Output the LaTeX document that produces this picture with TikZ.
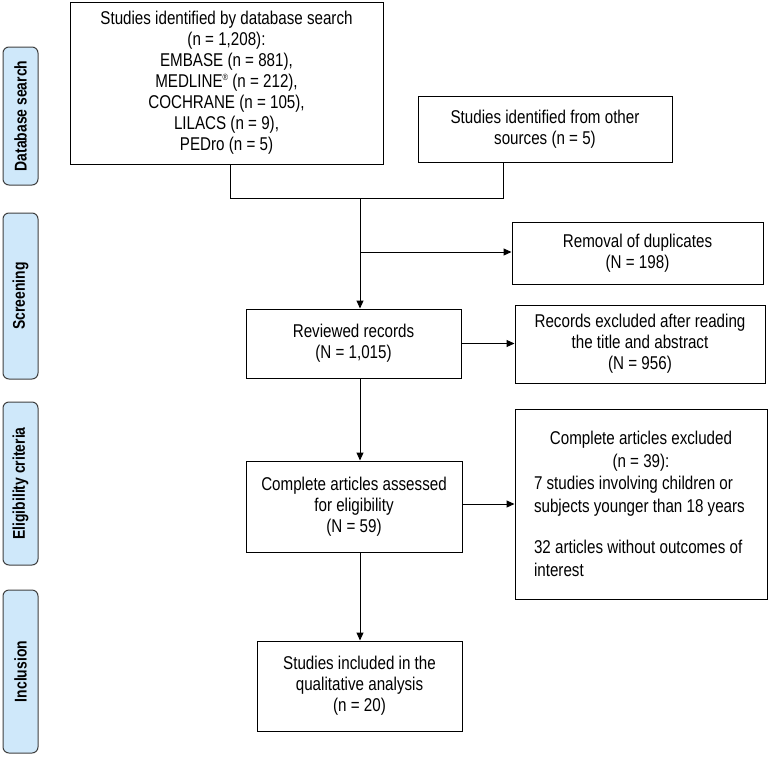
\documentclass[tikz,border=0pt]{standalone}
\usepackage{fontspec}
\setmainfont{Liberation Sans}[FakeStretch=0.82]
\usetikzlibrary{arrows.meta}
\definecolor{stagefill}{RGB}{207,232,250}

\begin{document}
\begin{tikzpicture}[x=1pt, y=-1pt,
    box/.style={draw, line width=1pt, rectangle, align=center, inner sep=0pt,
        font=\fontsize{18.5}{21}\selectfont},
    stage/.style={draw=black!75, fill=stagefill, rounded corners=6pt, line width=1pt,
        rotate=90, minimum height=35, inner sep=0pt,
        font=\bfseries\fontsize{17}{18}\selectfont},
    flow/.style={line width=1pt, -{Triangle[length=8pt,width=7pt]}},
    link/.style={line width=1pt}]
        \useasboundingbox (0,0) rectangle (771,758);
        % Stage labels on the left
        \node[stage, minimum width=138] (sdb) at (20.5,116) {Database search};
        \node[stage, minimum width=166] (sscr) at (20.5,296) {Screening};
        \node[stage, minimum width=163] (selig) at (20.5,483.5) {Eligibility criteria};
        \node[stage, minimum width=163] (sinc) at (20.5,671.5) {Inclusion};

        % Boxes
        \node[box, minimum width=313, minimum height=162] (db) at (226.5,83) {
            Studies identified by database search\\
            (n = 1,208):\\
            EMBASE (n = 881),\\
            MEDLINE\raisebox{0.7ex}{\fontsize{9}{9}\selectfont ®} (n = 212),\\
            COCHRANE (n = 105),\\
            LILACS (n = 9),\\
            PEDro (n = 5)
        };
        \node[box, minimum width=254, minimum height=66] (other) at (545,129) {
            Studies identified from other\\ sources (n = 5)
        };
        \node[box, minimum width=251, minimum height=62] (removal) at (637.5,253) {
            Removal of duplicates\\ (N = 198)
        };
        \node[box, minimum width=215, minimum height=69] (reviewed) at (353.5,343.5) {
            Reviewed records\\ (N = 1,015)
        };
        \node[box, minimum width=250, minimum height=78] (excl1) at (640,344) {
            Records excluded after reading\\ the title and abstract\\ (N = 956)
        };
        \node[box, minimum width=216, minimum height=91] (assessed) at (354,506.5) {
            Complete articles assessed\\ for eligibility\\ (N = 59)
        };
        \node[box, align=none, text width=214, minimum width=252, minimum height=190,
            font=\fontsize{18.5}{22.5}\selectfont] (excl2) at (641,504) {
            {\centering Complete articles excluded\\ (n = 39):\par}
            \raggedright 7 studies involving children or\\ subjects younger than 18 years\par
            \vspace{19pt}
            32 articles without outcomes of\\ interest\par
        };
        \node[box, minimum width=205, minimum height=90] (included) at (359.5,686) {
            Studies included in the\\ qualitative analysis\\ (n = 20)
        };

        % Connectors
        \coordinate (j1) at (230,198);
        \coordinate (j2) at (503,198);
        \coordinate (jm) at (360,198);
        \coordinate (b1) at (360,252);
        \draw[link] (db.south -| j1) -- (j1) -- (j2) -- (other.south -| j2);
        \draw[flow] (jm) -- (reviewed.north -| jm);
        \draw[flow] (b1) -- (b1 -| removal.west);
        \draw[flow] (reviewed.east) -- (reviewed.east -| excl1.west);
        \draw[flow] (reviewed.south -| jm) -- (assessed.north -| jm);
        \draw[flow] (assessed.east |- excl2.west) -- (excl2.west);
        \draw[flow] (assessed.south -| jm) -- (included.north -| jm);
\end{tikzpicture}
\end{document}
